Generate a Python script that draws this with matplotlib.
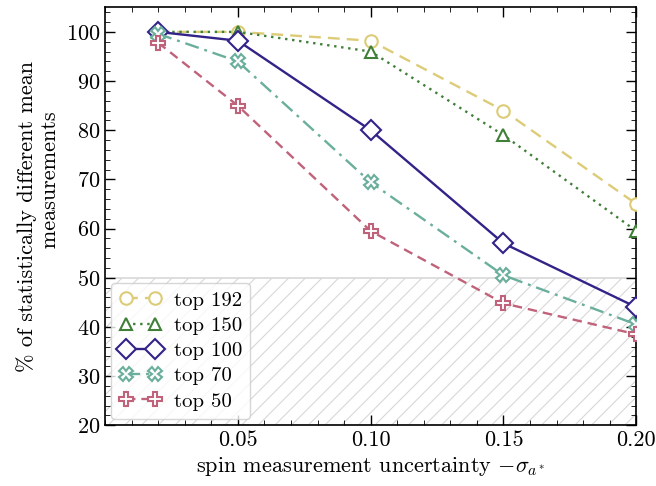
import matplotlib
matplotlib.use("Agg")
import matplotlib.pyplot as plt
from matplotlib.ticker import MultipleLocator

plt.rcParams.update({
    "font.family": "serif",
    "font.serif": ["cmr10", "DejaVu Serif"],
    "mathtext.fontset": "cm",
    "axes.formatter.use_mathtext": True,
    "font.size": 16,
    "xtick.direction": "in", "ytick.direction": "in",
    "xtick.top": True, "ytick.right": True,
    "xtick.major.size": 7, "ytick.major.size": 7,
    "xtick.minor.size": 3.5, "ytick.minor.size": 3.5,
    "xtick.major.width": 1.0, "ytick.major.width": 1.0,
    "axes.linewidth": 1.2,
    "hatch.color": "#d8d8d8", "hatch.linewidth": 0.8,
})

sigma = [0.02, 0.05, 0.10, 0.15, 0.20]
top192 = [100, 100, 98.2, 84, 65]
top150 = [100, 100, 96, 79, 59.5]
top100 = [100, 98.2, 80, 57, 44]
top70 = [99.6, 94, 69.4, 50.5, 40.5]
top50 = [97.8, 85, 59.5, 44.8, 38.5]

series = [
    ("top 192", top192, "o", (0, (5, 3)), "#DDCC77"),
    ("top 150", top150, "^", (0, (1, 2)), "#3F7F37"),
    ("top 100", top100, "D", "-", "#332288"),
    ("top 70", top70, "X", (0, (6, 2.5, 1.2, 2.5)), "#6AAE9C"),
    ("top 50", top50, "P", (0, (4, 2.5)), "#C0627A"),
]

fig, ax = plt.subplots(figsize=(6.56, 4.86), dpi=100)
fig.subplots_adjust(left=0.16, right=0.97, bottom=0.125, top=0.985)

ax.axhspan(20, 50, facecolor="none", edgecolor="#d8d8d8", hatch="//", lw=1.2, zorder=0)

for name, vals, mk, ls, col in series:
    ms = 10 if mk in ("D", "X", "P") else 9
    ax.plot(sigma, vals, marker=mk, linestyle=ls, color=col, lw=1.7,
            markersize=ms, markerfacecolor="white", markeredgecolor=col,
            markeredgewidth=1.5, label=name, zorder=3)

ax.set_xlim(0.0, 0.2)
ax.set_ylim(20, 105)
ax.set_xticks([0.05, 0.10, 0.15, 0.20])
ax.set_xticklabels(["0.05", "0.10", "0.15", "0.20"])
ax.xaxis.set_minor_locator(MultipleLocator(0.01))
ax.yaxis.set_major_locator(MultipleLocator(10))
ax.yaxis.set_minor_locator(MultipleLocator(2))
ax.tick_params(which="minor", direction="in", top=True, right=True)

ax.set_xlabel(r"spin measurement uncertainty $-\sigma_{a^*}$")
# second line sits off-centre towards the top in the original
ax.set_ylabel("% of statistically different mean\n          measurements",
              multialignment="center")

ax.legend(loc="lower left", frameon=True, fontsize=15, handlelength=2.0, numpoints=2,
          borderaxespad=0.3, labelspacing=0.32, handletextpad=0.6)

fig.savefig("out.png", dpi=100)
